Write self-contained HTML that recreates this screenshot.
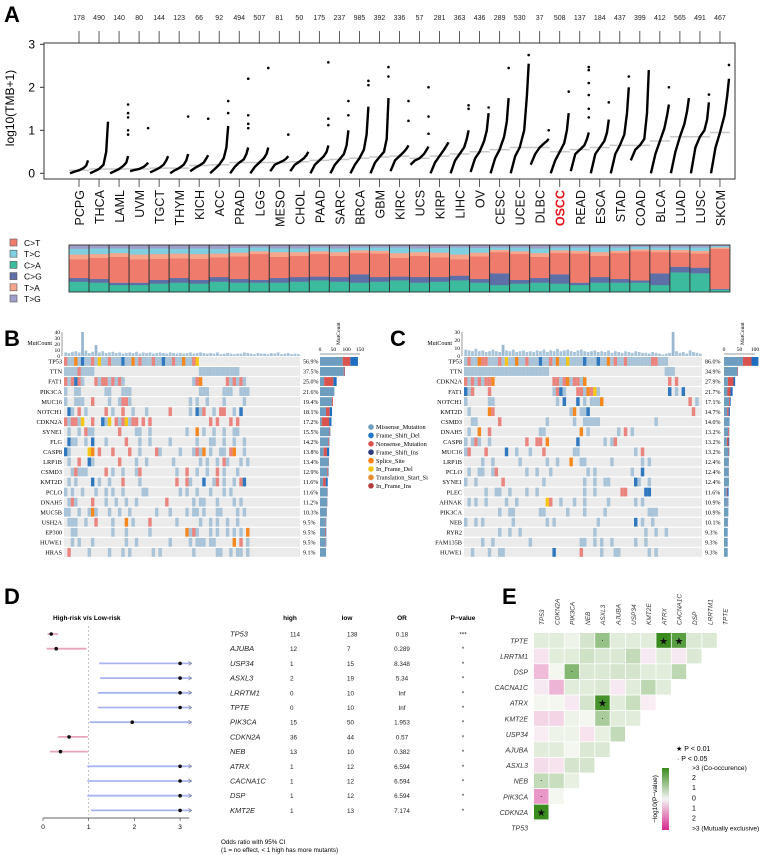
<!DOCTYPE html>
<html><head><meta charset="utf-8"><style>
html,body{margin:0;padding:0;background:#fff;}
svg{display:block;font-family:"Liberation Sans",sans-serif;}
.serif{font-family:"Liberation Serif",serif;}
</style></head><body>
<svg id="fig" width="768" height="855" viewBox="0 0 768 855" xmlns="http://www.w3.org/2000/svg">
<text x="4" y="22" font-size="22" font-weight="bold">A</text>
<text x="4" y="346" font-size="22" font-weight="bold">B</text>
<text x="390" y="346" font-size="22" font-weight="bold">C</text>
<text x="4" y="604" font-size="22" font-weight="bold">D</text>
<text x="502" y="604" font-size="22" font-weight="bold">E</text>
<text transform="translate(14,108) rotate(-90)" text-anchor="middle" font-size="12">log10(TMB+1)</text>
<rect x="44" y="43" width="691" height="136" fill="none" stroke="#333" stroke-width="1"/>
</svg>
<script>
// ---------- Panel A data ----------
const cancers=["PCPG","THCA","LAML","UVM","TGCT","THYM","KICH","ACC","PRAD","LGG","MESO","CHOL","PAAD","SARC","BRCA","GBM","KIRC","UCS","KIRP","LIHC","OV","CESC","UCEC","DLBC","OSCC","READ","ESCA","STAD","COAD","BLCA","LUAD","LUSC","SKCM"];
const sampleCounts=[178,490,140,80,144,123,66,92,494,507,81,50,175,237,985,392,336,57,281,363,436,289,530,37,508,137,184,437,399,412,565,491,467];
const qMin=[0,0,0,0.05,0.02,0,0.05,0,0,0,0.05,0.05,0,0,0,0,0.05,0.2,0,0,0.03,0,0,0.2,0,0.05,0,0,0.3,0,0,0,0];
const q25=[0.04,0.05,0.05,0.08,0.07,0.07,0.12,0.1,0.15,0.15,0.2,0.2,0.2,0.2,0.2,0.25,0.3,0.3,0.25,0.3,0.35,0.35,0.4,0.45,0.3,0.45,0.45,0.45,0.55,0.45,0.5,0.6,0.6];
const q50=[0.07,0.1,0.1,0.1,0.12,0.12,0.18,0.2,0.25,0.25,0.25,0.27,0.3,0.32,0.35,0.38,0.4,0.35,0.4,0.45,0.5,0.55,0.6,0.6,0.5,0.55,0.6,0.65,0.65,0.75,0.85,0.85,0.95];
const q75=[0.12,0.2,0.18,0.15,0.2,0.2,0.25,0.35,0.32,0.35,0.3,0.35,0.4,0.45,0.55,0.5,0.5,0.45,0.55,0.6,0.75,0.85,1.0,0.7,0.7,0.65,0.75,0.9,0.8,1.05,1.15,1.0,1.35];
const q90=[0.18,0.5,0.25,0.2,0.3,0.3,0.35,0.6,0.45,0.45,0.35,0.42,0.5,0.65,0.9,0.8,0.58,0.55,0.65,0.8,1.0,1.2,1.8,0.75,1.0,0.8,0.95,1.4,1.4,1.35,1.45,1.25,1.8];
const qMax=[0.3,1.2,0.4,0.25,0.4,0.45,0.42,1.1,0.6,0.6,0.4,0.5,0.65,1.0,1.55,1.75,0.65,0.62,0.72,1.0,1.4,1.75,2.55,0.8,1.4,0.95,1.25,2.0,2.4,1.6,1.75,1.65,2.2];
const outliers=[[],[],[0.9,1.0,1.3,1.4,1.6],[1.05],[],[1.32],[1.27],[1.4,1.68],[1.05,1.15,1.35,2.2],[2.45],[0.9],[],[1.12,1.27,2.58],[1.35,1.68],[2.05,2.15],[2.25,2.47],[1.22,1.68],[0.92,1.32,2.0],[],[1.5,1.58],[1.53],[2.45],[2.75],[1.0],[1.9],[1.3,1.5,1.82,2.1,2.4,2.47],[1.65],[2.25],[],[2.0],[],[1.83],[2.52]];
const yTicksA=[0,1,2,3];
// mutation spectrum fractions (bottom to top)
const fracCA=[0.22,0.2,0.15,0.15,0.18,0.2,0.18,0.22,0.2,0.2,0.2,0.22,0.25,0.22,0.2,0.22,0.25,0.2,0.22,0.25,0.2,0.15,0.18,0.2,0.18,0.15,0.2,0.2,0.2,0.15,0.42,0.4,0.05];
const fracCG=[0.08,0.08,0.05,0.05,0.08,0.1,0.08,0.1,0.08,0.06,0.1,0.1,0.08,0.1,0.18,0.1,0.08,0.12,0.1,0.1,0.08,0.25,0.08,0.1,0.2,0.05,0.12,0.08,0.05,0.25,0.12,0.12,0.02];
const fracCT=[0.4,0.45,0.55,0.5,0.45,0.42,0.45,0.42,0.48,0.55,0.45,0.45,0.48,0.45,0.45,0.5,0.4,0.45,0.42,0.35,0.48,0.45,0.55,0.45,0.45,0.62,0.45,0.55,0.62,0.45,0.3,0.3,0.85];
const fracTA=[0.1,0.08,0.08,0.1,0.1,0.1,0.1,0.08,0.08,0.06,0.1,0.08,0.06,0.08,0.06,0.06,0.1,0.08,0.1,0.1,0.08,0.05,0.06,0.08,0.06,0.06,0.08,0.05,0.04,0.05,0.06,0.06,0.03];
const fracTC=[0.12,0.12,0.1,0.12,0.12,0.1,0.12,0.1,0.1,0.08,0.08,0.08,0.08,0.08,0.06,0.07,0.12,0.08,0.1,0.15,0.1,0.05,0.08,0.1,0.06,0.07,0.1,0.07,0.05,0.05,0.05,0.07,0.03];
const fracTG=[0.08,0.07,0.07,0.08,0.07,0.08,0.07,0.08,0.06,0.05,0.07,0.07,0.05,0.07,0.05,0.05,0.05,0.07,0.06,0.05,0.06,0.05,0.05,0.07,0.05,0.05,0.05,0.05,0.04,0.05,0.05,0.05,0.02];
const specNames=["C>T","T>C","C>A","C>G","T>A","T>G"];
const specColors={"C>T":"#ef7b6c","T>C":"#80cfe0","C>A":"#3dbb9e","C>G":"#5d6fa6","T>A":"#f6a68c","T>G":"#9ea0c9"};

// ---------- Panel B / C data ----------
const genesB=["TP53","TTN","FAT1","PIK3CA","MUC16","NOTCH1","CDKN2A","SYNE1","FLG","CASP8","LRP1B","CSMD3","KMT2D","PCLO","DNAH5","MUC5B","USH2A","EP300","HUWE1","HRAS"];
const pctB=[56.9,37.5,25.0,21.6,19.4,18.1,17.2,15.5,14.2,13.8,13.4,12.9,11.6,11.6,11.2,10.3,9.5,9.5,9.5,9.1];
const missFracB=[0.6,0.95,0.25,1,0.92,0.5,0.15,0.92,0.88,0.4,0.95,0.85,0.4,0.95,0.95,0.95,0.9,0.85,0.9,1];
const nonFracB=[0.2,0.04,0.55,0,0.08,0.3,0.65,0.06,0.08,0.35,0.03,0.1,0.35,0.03,0.03,0.03,0.06,0.1,0.06,0];
const mutB=[
"nmmsmdmmnmymmnmmmdmmsmnmmmnmmdmmnmmsmmny",
"mmmmnmmmm...............................mmmmmmmmmmmm",
"nmndnm...nmnnmnmnm....................mns.......nmnmnm",
"m..mm.......mm...mmm....................mmm....mmm..mmm",
"m..mmm..n....m..mnnm.................m.m..m....m.....m",
".dm.n.m.....n.m..n..m...m......n.....m.dmn..m.nn..m.d",
"nmnnmy..n..dmy.nmnymnn.n.n.................n.n...n.n",
".m..m.nmm.......n....mm..m..........m..s.m..m..m..mm",
".dmm..m.d...m.....n...m..m.....m.......m...mm..m..m..m",
"dm.....ys.n...n....n..m....nm.....m...mnms.m..mm.ns..m",
".m..n..dm.......n....m..m.......m.......m.m..m.nm...m.m",
"..mnmmm.....n.m..m...mn..........m..n..m..m..n.m...m",
".m.m....d.m..m...n....m..........n..nm...d..mn.m..m.nd",
"m.m..m...m..m.m..m.....mm.........m.m..m...m...m.m",
".mnm....n...m..m..m..m........n.......m.mm...m....m.m",
"mm..m..msm...m..m..m.......m...m....m.mm.m...mm....m.m",
".mmm..m..n....m...s.m....n.......m......m..m.m..m..m",
"..mm..........m...m......m..........smnm...m.m..m.m.m.s",
"..m.m...m.........m..m.........m.....m.mmm.mm.....s.n.m",
".n.....m.....m...m.m......m.m.........m......mm..m.mm.m"];
const topBarsB=[6,5,7,8,6,40,9,5,7,18,6,8,5,6,7,5,6,4,5,6,5,7,4,6,5,6,4,5,6,5,4,6,5,4,5,4,5,6,4,5,6,5,4,5,4,6,3,4,5,4,3,4,4,6,5,4,3,5,4,4,3,5,4,6,3,4,5,3,4,3];
const genesC=["TP53","TTN","CDKN2A","FAT1","NOTCH1","KMT2D","CSMD3","DNAH5","CASP8","MUC16","LRP1B","PCLO","SYNE1","PLEC","AHNAK","PIK3CA","NEB","RYR2","FAM135B","HUWE1"];
const pctC=[86.0,34.9,27.9,21.7,17.1,14.7,14.0,13.2,13.2,13.2,12.4,12.4,12.4,11.6,10.9,10.9,10.1,9.3,9.3,9.3];
const missFracC=[0.55,0.97,0.35,0.4,0.75,0.55,1,0.8,0.55,0.85,0.95,0.95,1,0.6,0.85,1,0.95,1,1,1];
const nonFracC=[0.25,0.03,0.5,0.35,0.15,0.25,0,0.15,0.3,0.1,0.03,0.03,0,0.15,0.05,0,0.03,0,0,0];
const mutC=[
"mnmmsnnmmmnmymmsmmnmmmdmmnmsmmymmmmdmmmdmmsmnmmnmmmmmmmnnmmm",
"mmmmmmmmmmmmmmmmmmmmmmmmm..................................mmm",
"nmnmnmnns.................nnmnsmnnms........................n.n",
"dmn....n..................mndm...nnmsnym....................d.m.d",
"m......mm..................m.d...d.m.mmms.........................n.m",
".m.....sn......................ms.mmd..............................n",
"..mm......n.............m.......m..mmmmm................m",
".m..s..n..............mm..........s.m........m.n.m",
"m.mnm..m..........n..nn.s........d.......m.mn",
"mn....n.....d..m...m...n........mm................m.n",
".....m..m.......m.......m..m...s..mm.......m........m.m",
".m..mm..mn........m..m...m..........m.m..........m..d",
"m..m.......n...........m...........m..m..mm.......dm..m",
"......m..mm..m....m..m.............m..m.......nn.....dd",
".m.m..m.....m..m........yn..m...m..m......m.......m.m",
"..........m..mm.......mm......m....m.....m............mmm",
"m..m.m........m.........m.m............m..........d.m..m",
"..........m..m..m.....................m..............m..m..m",
".....m..m..........m..............mm..m.m..m......m..m",
"..m....m..mm..............d.......n.....m...mm........m.m"];
const topBarsC=[8,7,6,9,6,7,5,6,8,6,5,14,7,6,8,5,6,7,5,6,5,7,6,8,5,7,6,9,6,7,8,6,5,7,8,6,5,6,7,5,6,5,7,4,6,5,4,6,5,4,6,5,4,4,3,5,4,3,2,3,4,30,6,4,5,3,7,5,4,3];
const mutColors={m:"#a9c4d8",n:"#e9847e",d:"#2f78c0",i:"#3a4c8c",s:"#f5871f",y:"#f5c518"};
const legendTypes=["Missense_Mutation","Frame_Shift_Del","Nonsense_Mutation","Frame_Shift_Ins","Splice_Site","In_Frame_Del","Translation_Start_Si","In_Frame_Ins"];
const legendColors=["#6d9ec0","#1f78c8","#d9534f","#2c3e80","#ff7f0e","#f5c518","#e68a2e","#b33b3b"];

// ---------- Panel D data ----------
const genesD=["TP53","AJUBA","USP34","ASXL3","LRRTM1","TPTE","PIK3CA","CDKN2A","NEB","ATRX","CACNA1C","DSP","KMT2E"];
const highD=[114,12,1,2,0,0,15,36,13,1,1,1,1];
const lowD=[138,7,15,19,10,10,50,44,10,12,12,12,13];
const orD=["0.18","0.289","8.348","5.34","Inf","Inf","1.953","0.57","0.382","6.594","6.594","6.594","7.174"];
const orVal=[0.18,0.289,8.348,5.34,99,99,1.953,0.57,0.382,6.594,6.594,6.594,7.174];
const ciLow=[0.1,0.08,1.23,1.25,1.2,1.2,1.02,0.33,0.15,0.97,0.97,0.97,1.05];
const ciHigh=[0.33,0.95,99,99,99,99,99,0.98,0.98,99,99,99,99];
const pD=["***","*","*","*","*","*","*","*","*","*","*","*","*"];
const xTicksD=[0,1,2,3];

// ---------- Panel E data ----------
const genesE=["TPTE","LRRTM1","DSP","CACNA1C","ATRX","KMT2E","USP34","AJUBA","ASXL3","NEB","PIK3CA","CDKN2A","TP53"];
const colsE=["TP53","CDKN2A","PIK3CA","NEB","ASXL3","AJUBA","USP34","KMT2E","ATRX","CACNA1C","DSP","LRRTM1","TPTE"];
const valE=[
[0.3,0.3,0.1,0.5,1.5,0.3,0.3,0.3,3,2.5,0.4,0.4],
[-0.2,0.3,0.3,0.6,0.4,0.4,0.8,-0.1,0.3,-0.1,0.4],
[-0.8,0,1.8,0.4,0.4,0.5,0.5,0.3,0.3,0.9],
[-0.1,-0.9,0.3,0.3,0.4,-0.1,0.3,0.9,0.3],
[0,0,-0.1,0.5,2.8,0.3,0.7,-0.05],
[-0.4,-0.4,0.1,0,1.2,0.3,0.3],
[-0.05,0.1,0.1,-0.2,0.2,0.8],
[0.3,0.3,0,0.4,0.4],
[-0.3,-0.2,0.5,0.5],
[0.8,0.7,0.2],
[-1.3,0],
[3]];
const sigE=[
["","","","","·","","","","★","★","",""],
["","","","","","","","","","",""],
["","","·","","","","","","",""],
["","","","","","","","",""],
["","","","","★","","",""],
["","","","","·","",""],
["","","","","",""],
["","","","",""],
["","","",""],
["·","",""],
["·",""],
["★"]];
const cbTicks=[">3 (Co-occurence)","2","1","0","1","2",">3 (Mutually exclusive)"];

// ---------- helpers ----------
const NS="http://www.w3.org/2000/svg";
const svg=document.getElementById("fig");
function mk(tag,attrs,parent){const e=document.createElementNS(NS,tag);for(const k in attrs)e.setAttribute(k,attrs[k]);(parent||svg).appendChild(e);return e;}
function tx(s,attrs,parent){const e=mk("text",attrs,parent);e.textContent=s;return e;}
function grp(name){const g=mk("g",{});


return g;}

// ---------- Panel A ----------
const xA=i=>79+i*20.03;
const yA=v=>173.3-v*43;
const gA=grp("tmb-plot");
yTicksA.forEach(t=>{
  const l=mk("line",{x1:40,x2:44,y1:yA(t),y2:yA(t),stroke:"#333"},gA);
  
  
  const s=tx(String(t),{x:35,y:yA(t)+4,"font-size":12,"text-anchor":"end"},gA);
  
  
});
cancers.forEach((c,i)=>{
  const x=xA(i);
  const t1=mk("line",{x1:x,x2:x,y1:31,y2:43,stroke:"#333","stroke-width":0.8},gA);
  
  
  const t2=mk("line",{x1:x,x2:x,y1:179,y2:187,stroke:"#333","stroke-width":0.8},gA);
  
  
  const n=tx(String(sampleCounts[i]),{x:x,y:20,"font-size":7,"text-anchor":"middle",fill:"#222"},gA);
  
  
  const lb=tx(c,{transform:`translate(${x+5},190) rotate(-90)`,"font-size":12.5,"text-anchor":"end",fill:c==="OSCC"?"#e8141c":"#111","font-weight":c==="OSCC"?"bold":"normal"},gA);
  
  
  const med=mk("line",{x1:x-10,x2:x+10,y1:yA(q50[i]),y2:yA(q50[i]),stroke:"#c8c8c8","stroke-width":1.5},gA);
  
  
  const qs=[qMin[i],q25[i],q50[i],q75[i],q90[i],qMax[i]];
  const fr=[0,0.25,0.5,0.75,0.9,1];
  const pts=qs.map((q,k)=>`${(x-9+fr[k]*18).toFixed(1)},${yA(q).toFixed(1)}`).join(" ");
  const pl=mk("polyline",{points:pts,fill:"none",stroke:"#000","stroke-width":2.4,"stroke-linejoin":"round"},gA);
  
  
  outliers[i].forEach(v=>{
    const d=mk("circle",{cx:x+9,cy:yA(v),r:1.3,fill:"#000"},gA);
    
    
  });
});
// spectrum legend
const gL=grp("spectrum-legend");
specNames.forEach((s,k)=>{
  const y=239+k*11.2;
  const r=mk("rect",{x:10,y:y,width:7,height:7,fill:specColors[s],stroke:"#555","stroke-width":0.6},gL);
  
  
  const t=tx(s,{x:24,y:y+7,"font-size":8.5},gL);
  
  
});
const gS=grp("mutation-spectrum");
cancers.forEach((c,i)=>{
  const x0=xA(i)-10, top=245, h=47;
  const parts=[["C>A",fracCA[i]],["C>G",fracCG[i]],["C>T",fracCT[i]],["T>A",fracTA[i]],["T>C",fracTC[i]],["T>G",fracTG[i]]];
  const tot=parts.reduce((a,p)=>a+p[1],0);
  let y=top+h;
  parts.forEach(p=>{
    const hh=p[1]/tot*h; y-=hh;
    const r=mk("rect",{x:x0,y:y,width:20,height:hh+0.2,fill:specColors[p[0]]},gS);
    
    
  });
  const b=mk("rect",{x:x0,y:top,width:20,height:h,fill:"none",stroke:"#333","stroke-width":0.9},gS);
  
  
});

// ---------- Oncoplots ----------
function oncoplot(prefix,genes,pct,missF,nonF,muts,topBars,gx0,gx1,side0,sideScale,sideTicks,sideTickPx,topMax,topTicks){
  const g=grp(prefix+"-oncoplot");
  const ncol=70,y0=357,rowH=10.05,cw=(gx1-gx0)/ncol;
  // top bar axis
  const ty=v=>356-v/topMax*24;
  const ax=mk("line",{x1:gx0-2,x2:gx0-2,y1:ty(topMax),y2:356,stroke:"#333","stroke-width":0.5},g);
  
  
  topTicks.forEach(t=>{
    const s=tx(String(t),{x:gx0-4,y:ty(t)+2,"font-size":5.5,"text-anchor":"end"},g);
    s.setAttribute("class","serif");
    
    
  });
  const mc=tx("MutCount",{x:gx0-12,y:345,"font-size":6,"text-anchor":"end"},g);
  mc.setAttribute("class","serif");
  
  
  topBars.forEach((v,j)=>{
    const b=mk("rect",{x:gx0+j*cw+0.3,y:ty(v),width:cw-0.6,height:356-ty(v),fill:v>12?"#9bb8d0":"#a9c4d8"},g);
    
    
  });
  // side axis
  const sa=mk("line",{x1:side0,x2:side0+sideTicks[sideTicks.length-1]*sideScale,y1:354,y2:354,stroke:"#333","stroke-width":0.5},g);
  
  
  sideTicks.forEach(t=>{
    const s=tx(String(t),{x:side0+t*sideScale,y:351,"font-size":5.5,"text-anchor":"middle"},g);
    s.setAttribute("class","serif");
    
    
  });
  const st=tx("MutCount",{transform:`translate(${side0+20},345) rotate(-90)`,"font-size":5.5},g);
  st.setAttribute("class","serif");
  
  
  genes.forEach((gn,r)=>{
    const y=y0+r*rowH;
    const bg=mk("rect",{x:gx0,y:y,width:gx1-gx0,height:rowH-1.2,fill:"#ebebeb"},g);
    
    
    const s=muts[r];
    for(let j=0;j<Math.min(ncol,s.length);j++){
      const ch=s[j]; if(!mutColors[ch]) continue;
      const c=mk("rect",{x:gx0+j*cw,y:y,width:cw+0.05,height:rowH-1.2,fill:mutColors[ch]},g);
      
      
    }
    const lab=tx(gn,{x:gx0-2,y:y+6.6,"font-size":6.3,"text-anchor":"end"},g);
    lab.setAttribute("class","serif");
    
    
    const p=tx(pct[r].toFixed(1)+"%",{x:gx1+3,y:y+6.6,"font-size":6},g);
    p.setAttribute("class","serif");
    
    
    const len=pct[r]*sideTickPx;
    const segs=[[missF[r],"#6d9ec0"],[nonF[r],"#d9534f"],[Math.max(0,1-missF[r]-nonF[r]),"#1f6fc0"]];
    let sx=side0;
    segs.forEach(sg=>{
      const w=len*sg[0];
      const b=mk("rect",{x:sx,y:y,width:w,height:rowH-1.2,fill:sg[1]},g);
      
      
      sx+=w;
    });
  });
}
oncoplot("b",genesB,pctB,missFracB,nonFracB,mutB,topBarsB,64,300,320,40/150,[0,50,100,150],2.5*40/150,40,[0,10,20,30,40]);
oncoplot("c",genesC,pctC,missFracC,nonFracC,mutC,topBarsC,464,702,724,31/100,[0,50,100],1.29*31/100,30,[0,10,20,30]);
const gBL=grp("mutation-type-legend");
legendTypes.forEach((t,k)=>{
  const y=427+k*8.4;
  const c=mk("circle",{cx:371,cy:y,r:2.8,fill:legendColors[k]},gBL);
  
  
  const s=tx(t,{x:376,y:y+2.2,"font-size":6.3},gBL);
  s.setAttribute("class","serif");
  
  
});

// ---------- Panel D ----------
const gD=grp("forest-plot");
const xD=v=>43+v*45.7;
const rowD=i=>634+i*14.7;
[["High-risk  v/s  Low-risk",53,"start"],["high",290,"middle"],["low",347,"middle"],["OR",402,"middle"],["P−value",463,"middle"]].forEach(h=>{
  const s=tx(h[0],{x:h[1],y:620,"font-size":6.5,"font-weight":"bold","text-anchor":h[2]},gD);
  
  
});
const dl=mk("line",{x1:xD(1),x2:xD(1),y1:626,y2:815,stroke:"#aaa","stroke-dasharray":"2,2","stroke-width":0.7},gD);


genesD.forEach((gn,i)=>{
  const y=rowD(i);
  const lo=xD(Math.min(ciLow[i],3.25)), hiClip=ciHigh[i]>3.25, hi=xD(Math.min(ciHigh[i],3.25));
  const col=orVal[i]<1?"#e8a3bd":"#a8b4f0";
  const ln=mk("line",{x1:lo,x2:hi,y1:y,y2:y,stroke:col,"stroke-width":1.8},gD);
  
  
  if(hiClip){
    const a=mk("path",{d:`M${hi-3},${y-2} L${hi},${y} L${hi-3},${y+2}`,fill:"none",stroke:"#667","stroke-width":0.6},gD);
    
    
  }
  const pt=mk("circle",{cx:xD(Math.min(orVal[i],3)),cy:y,r:1.8,fill:"#111"},gD);
  
  
  const vals=[[gn,230,"start",true],[String(highD[i]),290,"start"],[String(lowD[i]),347,"start"],[orD[i],402,"middle"],[pD[i],463,"middle"]];
  vals.forEach(v=>{
    const s=tx(v[0],{x:v[1],y:y+2.5,"font-size":v[3]?7.5:6.3,"text-anchor":v[2],"font-style":v[3]?"italic":"normal",fill:"#222"},gD);
    
    
  });
});
const axD=mk("line",{x1:xD(0),x2:xD(3.2),y1:818,y2:818,stroke:"#333","stroke-width":0.8},gD);


xTicksD.forEach(t=>{
  const l=mk("line",{x1:xD(t),x2:xD(t),y1:818,y2:821,stroke:"#333","stroke-width":0.6},gD);
  
  
  const s=tx(String(t),{x:xD(t),y:829,"font-size":6.5,"text-anchor":"middle"},gD);
  
  
});
const f1=tx("Odds ratio with 95% CI",{x:221,y:844,"font-size":6.3},gD);


const f2=tx("(1 = no effect, < 1 high has more mutants)",{x:221,y:852,"font-size":6.3},gD);



// ---------- Panel E ----------
const gE=grp("cooccurrence-heatmap");
const cwE=15.3,chE=15.6,ex0=534,ey0=633;
function colE(v){
  const t=Math.min(Math.abs(v),3)/3;
  const mix=(a,b)=>a.map((x,k)=>Math.round(x+(b[k]-x)*t));
  const c=v>=0?mix([244,247,240],[58,140,30]):mix([248,240,244],[214,40,140]);
  return `rgb(${c[0]},${c[1]},${c[2]})`;
}
colsE.forEach((c,j)=>{
  const s=tx(c,{transform:`translate(${ex0+j*cwE+10},625) rotate(-90)`,"font-size":6.5,"font-style":"italic",fill:"#333"},gE);
  
  
});
genesE.forEach((gn,r)=>{
  const y=ey0+r*chE;
  const s=tx(gn,{x:528,y:y+chE/2+2.5,"font-size":7,"font-style":"italic","text-anchor":"end",fill:"#333"},gE);
  
  
  if(!valE[r]) return;
  valE[r].forEach((v,j)=>{
    const x=ex0+j*cwE;
    const c=mk("rect",{x:x,y:y,width:cwE-0.8,height:chE-0.8,fill:colE(v)},gE);
    
    
    const sg=sigE[r][j];
    if(sg){
      const m=tx(sg,{x:x+cwE/2-0.4,y:y+chE/2+(sg==="★"?3.5:2),"font-size":sg==="★"?10:8,"text-anchor":"middle",fill:"#111"},gE);
      
      
    }
  });
});
const gEL=grp("heatmap-legend");
const l1=tx("★  P < 0.01",{x:676,y:751,"font-size":7},gEL);


const l2=tx("·   P < 0.05",{x:677,y:761,"font-size":7},gEL);


const defs=mk("defs",{});
const lg=mk("linearGradient",{id:"cbg",x1:0,y1:0,x2:0,y2:1},defs);
mk("stop",{offset:"0","stop-color":"rgb(58,140,30)"},lg);
mk("stop",{offset:"0.5","stop-color":"#f4f4f4"},lg);
mk("stop",{offset:"1","stop-color":"rgb(214,40,140)"},lg);
const cb=mk("rect",{x:662,y:768,width:7,height:62,fill:"url(#cbg)"},gEL);


cbTicks.forEach((t,k)=>{
  const s=tx(t,{x:692,y:770+k*10.1,"font-size":k===0||k===6?6.6:7},gEL);
  
  
});
const cbt=tx("−log10(P−value)",{transform:"translate(657,799) rotate(-90)","font-size":6.5,"text-anchor":"middle"},gEL);


</script>
</body></html>
